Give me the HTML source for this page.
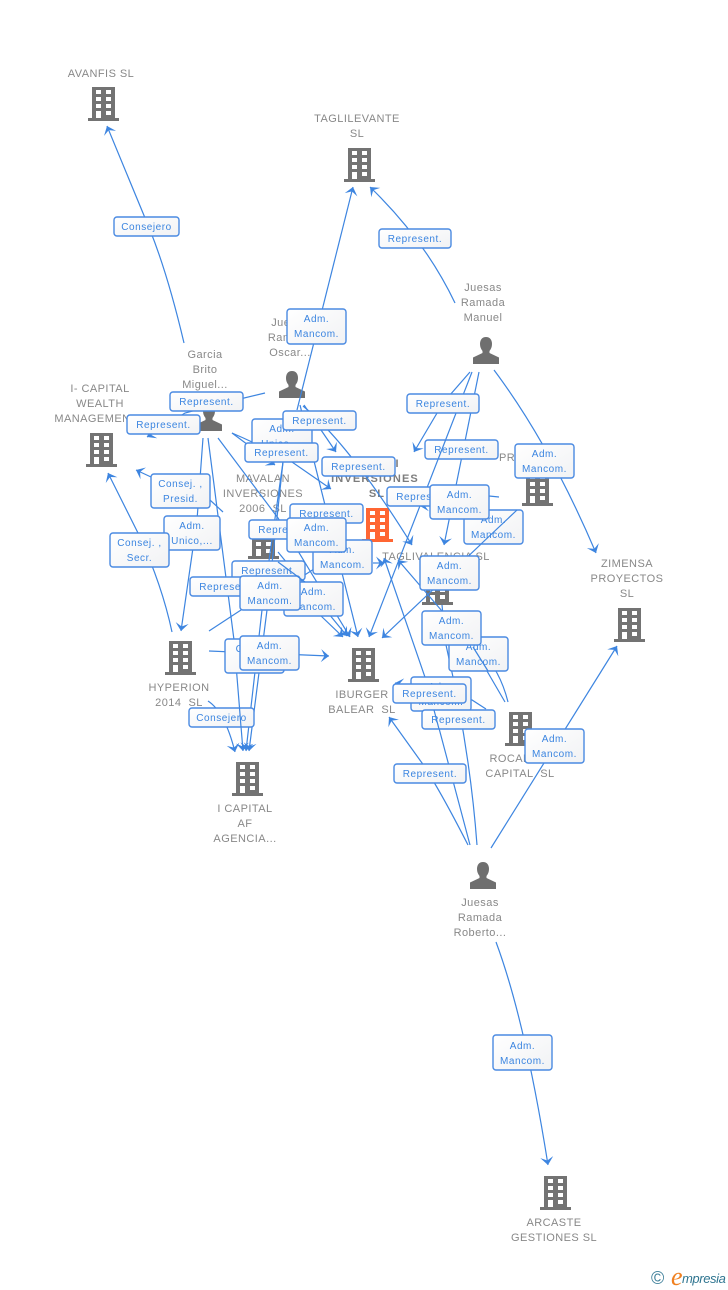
<!DOCTYPE html>
<html><head><meta charset="utf-8"><style>
html,body{margin:0;padding:0;background:#fff;width:728px;height:1290px;overflow:hidden}
svg{display:block;font-family:"Liberation Sans",sans-serif}
.n{font-size:11px;fill:#888;text-anchor:middle;letter-spacing:.45px}
.c{font-weight:bold;fill:#7d7d7d;letter-spacing:1.15px}
.l path{fill:none;stroke:#3d85e0;stroke-width:1.2;marker-end:url(#a)}
.l path.x{marker-end:none}
.b rect{fill:url(#g);stroke:#4a8ae2;stroke-width:1.4}
.b text{font-size:10px;fill:#3b85e0;text-anchor:middle;letter-spacing:.55px}
</style></head><body>
<svg width="728" height="1290" viewBox="0 0 728 1290" xmlns="http://www.w3.org/2000/svg">
<defs>
<linearGradient id="g" x1="0" y1="0" x2="1" y2="1"><stop offset="0" stop-color="#fff"/><stop offset="1" stop-color="#f1f2f4"/></linearGradient>
<marker id="a" viewBox="-10 -7 11 14" refX="0" refY="0" markerWidth="11" markerHeight="14" markerUnits="userSpaceOnUse" orient="auto"><path d="M0,0 L-8,-6.500 L-4.500,0 L-8,6.500 Z" fill="#3d85e0"/></marker>
<g id="c"><path fill="#737373" fill-rule="evenodd" d="M-12,0H11V31H15V34H-16V31H-12ZM-8,3V7H-3V3ZM2,3V7H7V3ZM-8,10V14H-3V10ZM2,10V14H7V10ZM-8,17V21H-3V17ZM2,17V21H7V17ZM-8,24V31H-3V24ZM2,24V28H7V24Z"/></g>
<g id="r"><path fill="#ff6633" fill-rule="evenodd" d="M-12,0H11V31H15V34H-16V31H-12ZM-8,3V7H-3V3ZM2,3V7H7V3ZM-8,10V14H-3V10ZM2,10V14H7V10ZM-8,17V21H-3V17ZM2,17V21H7V17ZM-8,24V31H-3V24ZM2,24V28H7V24Z"/></g>
<g id="p"><path fill="#6f6f6f" d="M0,0C4,0 6,3 6,7C6,10 5,12 3.500,14V16L13,20.500V27H-13V20.500L-3.500,16V14C-5,12 -6,10 -6,7C-6,3 -4,0 0,0Z"/></g>
</defs>

<!-- nodes -->
<use href="#c" x="104" y="87"/>
<use href="#c" x="360" y="148"/>
<use href="#c" x="102" y="433"/>
<use href="#c" x="264" y="525"/>
<use href="#r" x="378" y="508"/>
<use href="#c" x="538" y="472"/>
<use href="#c" x="438" y="571"/>
<use href="#c" x="630" y="608"/>
<use href="#c" x="181" y="641"/>
<use href="#c" x="364" y="648"/>
<use href="#c" x="521" y="712"/>
<use href="#c" x="248" y="762"/>
<use href="#c" x="556" y="1176"/>
<use href="#p" x="486" y="337"/>
<use href="#p" x="292" y="371"/>
<use href="#p" x="209" y="404"/>
<use href="#p" x="483" y="862"/>

<text class="n" x="101" y="77">AVANFIS SL</text>
<text class="n" x="357" y="122">TAGLILEVANTE</text><text class="n" x="357" y="137">SL</text>
<text class="n" x="483" y="291">Juesas</text><text class="n" x="483" y="306">Ramada</text><text class="n" x="483" y="321">Manuel</text>
<text class="n" x="290" y="326">Juesas</text><text class="n" x="290" y="341">Ramada</text><text class="n" x="290" y="356">Oscar...</text>
<text class="n" x="205" y="358">Garcia</text><text class="n" x="205" y="373">Brito</text><text class="n" x="205" y="388">Miguel...</text>
<text class="n" x="100" y="392">I- CAPITAL</text><text class="n" x="100" y="407">WEALTH</text><text class="n" x="96" y="422">MANAGEMENT</text>
<text class="n" x="263" y="482">MAVALAN</text><text class="n" x="263" y="497">INVERSIONES</text><text class="n" x="263" y="512">2006 &#160;SL</text>
<text class="n c" x="366" y="467">CAPITAL II</text><text class="n c" x="375" y="482">INVERSIONES</text><text class="n c" x="377" y="497">SL</text>
<text class="n" x="537" y="461">PROMOTORA</text>
<text class="n" x="436" y="560">TAGLIVALENCIA SL</text>
<text class="n" x="627" y="567">ZIMENSA</text><text class="n" x="627" y="582">PROYECTOS</text><text class="n" x="627" y="597">SL</text>
<text class="n" x="179" y="691">HYPERION</text><text class="n" x="179" y="706">2014 &#160;SL</text>
<text class="n" x="362" y="698">IBURGER</text><text class="n" x="362" y="713">BALEAR &#160;SL</text>
<text class="n" x="522" y="762">ROCAFORT</text><text class="n" x="520" y="777">CAPITAL &#160;SL</text>
<text class="n" x="245" y="812">I CAPITAL</text><text class="n" x="245" y="827">AF</text><text class="n" x="245" y="842">AGENCIA...</text>
<text class="n" x="480" y="906">Juesas</text><text class="n" x="480" y="921">Ramada</text><text class="n" x="480" y="936">Roberto...</text>
<text class="n" x="554" y="1226">ARCASTE</text><text class="n" x="554" y="1241">GESTIONES SL</text>

<!-- connectors -->
<g class="l">
<path d="M184,343Q168,275 150,230L107,126"/>
<path d="M297,410L353,187"/>
<path d="M455,303Q425,240 370,187"/>
<path d="M494,370Q550,445 596,553"/>
<path d="M470,372L443,403L414,452"/>
<path d="M472,372L369,637"/>
<path d="M479,372L444,545"/>
<path d="M203,438L197,520L181,631"/>
<path d="M208,438Q222,550 234,640L243,751"/>
<path d="M218,438L278,518L350,637"/>
<path d="M232,433Q260,445 292,462L331,489"/>
<path d="M304,405L336,452"/>
<path d="M232,433L275,465"/>
<path d="M265,393L215,405L185,413L147,437"/>
<path d="M223,512L210,500L151,477L136,470"/>
<path d="M172,632Q162,585 139,535L108,473"/>
<path d="M208,701Q225,712 235,752"/>
<path d="M209,651L329,656"/>
<path d="M209,631L241,610L300,578L331,558"/>
<path d="M290,437L283,462L262,610L246,751"/>
<path d="M283,462L267,610L249,751"/>
<path d="M300,405L358,637"/>
<path d="M278,552L347,636"/>
<path d="M320,615L343,637"/>
<path d="M303,406Q350,445 412,545"/>
<path d="M517,510L382,638"/>
<path d="M499,497L489,496L420,506"/>
<path d="M470,845L427,683L384,558"/>
<path d="M373,563L384,563"/>
<path d="M505,702L473,647L398,560"/>
<path d="M508,702Q500,670 480,650L452,611"/>
<path d="M477,845Q470,750 446,645L442,605" class="x"/>
<path d="M468,845Q440,790 422,763L389,717"/>
<path d="M491,848L617,646"/>
<path d="M486,709L472,700L395,683"/>
<path d="M496,942Q525,1020 548,1165"/>
</g>

<!-- connector labels -->
<g class="b">
<rect x="114" y="217" width="65" height="19" rx="3"/><text x="146.500" y="230">Consejero</text>
<rect x="379" y="229" width="72" height="19" rx="3"/><text x="415" y="242">Represent.</text>
<rect x="287" y="309" width="59" height="35" rx="3"/><text x="316.500" y="322">Adm.</text><text x="316.500" y="337">Mancom.</text>
<rect x="252" y="419" width="60" height="34" rx="3"/><text x="282" y="432">Adm.</text><text x="282" y="447">Unico,...</text>
<rect x="170" y="392" width="73" height="19" rx="3"/><text x="206.500" y="405">Represent.</text>
<rect x="127" y="415" width="73" height="19" rx="3"/><text x="163.500" y="428">Represent.</text>
<rect x="407" y="394" width="72" height="19" rx="3"/><text x="443" y="407">Represent.</text>
<rect x="283" y="411" width="73" height="19" rx="3"/><text x="319.500" y="424">Represent.</text>
<rect x="245" y="443" width="73" height="19" rx="3"/><text x="281.500" y="456">Represent.</text>
<rect x="425" y="440" width="73" height="19" rx="3"/><text x="461.500" y="453">Represent.</text>
<rect x="515" y="444" width="59" height="34" rx="3"/><text x="544.500" y="457">Adm.</text><text x="544.500" y="472">Mancom.</text>
<rect x="322" y="457" width="73" height="19" rx="3"/><text x="358.500" y="470">Represent.</text>
<rect x="151" y="474" width="59" height="34" rx="3"/><text x="180.500" y="487">Consej. ,</text><text x="180.500" y="502">Presid.</text>
<rect x="387" y="487" width="73" height="19" rx="3"/><text x="423.500" y="500">Represent.</text>
<rect x="464" y="510" width="59" height="34" rx="3"/><text x="493.500" y="523">Adm.</text><text x="493.500" y="538">Mancom.</text>
<rect x="430" y="485" width="59" height="34" rx="3"/><text x="459.500" y="498">Adm.</text><text x="459.500" y="513">Mancom.</text>
<rect x="290" y="504" width="73" height="19" rx="3"/><text x="326.500" y="517">Represent.</text>
<rect x="249" y="520" width="73" height="19" rx="3"/><text x="285.500" y="533">Represent.</text>
<rect x="313" y="540" width="59" height="34" rx="3"/><text x="342.500" y="553">Adm.</text><text x="342.500" y="568">Mancom.</text>
<rect x="287" y="518" width="59" height="34" rx="3"/><text x="316.500" y="531">Adm.</text><text x="316.500" y="546">Mancom.</text>
<rect x="164" y="516" width="56" height="34" rx="3"/><text x="192" y="529">Adm.</text><text x="192" y="544">Unico,...</text>
<rect x="110" y="533" width="59" height="34" rx="3"/><text x="139.500" y="546">Consej. ,</text><text x="139.500" y="561">Secr.</text>
<rect x="420" y="556" width="59" height="34" rx="3"/><text x="449.500" y="569">Adm.</text><text x="449.500" y="584">Mancom.</text>
<rect x="232" y="561" width="73" height="19" rx="3"/><text x="268.500" y="574">Represent.</text>
<rect x="190" y="577" width="73" height="19" rx="3"/><text x="226.500" y="590">Represent.</text>
<rect x="284" y="582" width="59" height="34" rx="3"/><text x="313.500" y="595">Adm.</text><text x="313.500" y="610">Mancom.</text>
<rect x="240" y="576" width="60" height="34" rx="3"/><text x="270" y="589">Adm.</text><text x="270" y="604">Mancom.</text>
<rect x="449" y="637" width="59" height="34" rx="3"/><text x="478.500" y="650">Adm.</text><text x="478.500" y="665">Mancom.</text>
<rect x="422" y="611" width="59" height="34" rx="3"/><text x="451.500" y="624">Adm.</text><text x="451.500" y="639">Mancom.</text>
<rect x="225" y="639" width="59" height="34" rx="3"/><text x="254.500" y="652">Consej.</text>
<rect x="240" y="636" width="59" height="34" rx="3"/><text x="269.500" y="649">Adm.</text><text x="269.500" y="664">Mancom.</text>
<rect x="411" y="677" width="60" height="34" rx="3"/><text x="441" y="690">Adm.</text><text x="441" y="705">Mancom.</text>
<rect x="422" y="710" width="73" height="19" rx="3"/><text x="458.500" y="723">Represent.</text>
<rect x="393" y="684" width="73" height="19" rx="3"/><text x="429.500" y="697">Represent.</text>
<rect x="189" y="708" width="65" height="19" rx="3"/><text x="221.500" y="721">Consejero</text>
<rect x="525" y="729" width="59" height="34" rx="3"/><text x="554.500" y="742">Adm.</text><text x="554.500" y="757">Mancom.</text>
<rect x="394" y="764" width="72" height="19" rx="3"/><text x="430" y="777">Represent.</text>
<rect x="493" y="1035" width="59" height="35" rx="3"/><text x="522.500" y="1049">Adm.</text><text x="522.500" y="1064">Mancom.</text>
</g>

<!-- segments that run over the labels -->
<g class="l">
<path class="x" d="M445.600,440L438.200,459"/>
<path class="x" d="M517,510L481,544"/>
<path class="x" d="M473,647L488,671"/>
<path class="x" d="M434,710L439,729"/>
<path class="x" d="M239.500,708L241,727"/>
<path class="x" d="M278,562L305,582"/>
</g>

<!-- logo -->
<text x="651" y="1284" font-size="18" fill="#3d7f99">©</text>
<text x="671" y="1285" font-size="26" font-style="italic" fill="#f08020" style="font-family:'Liberation Serif',serif">e</text>
<text x="682" y="1283" font-size="13" font-style="italic" fill="#2f7590" style="letter-spacing:-.4px">mpresia</text>
</svg>
</body></html>
